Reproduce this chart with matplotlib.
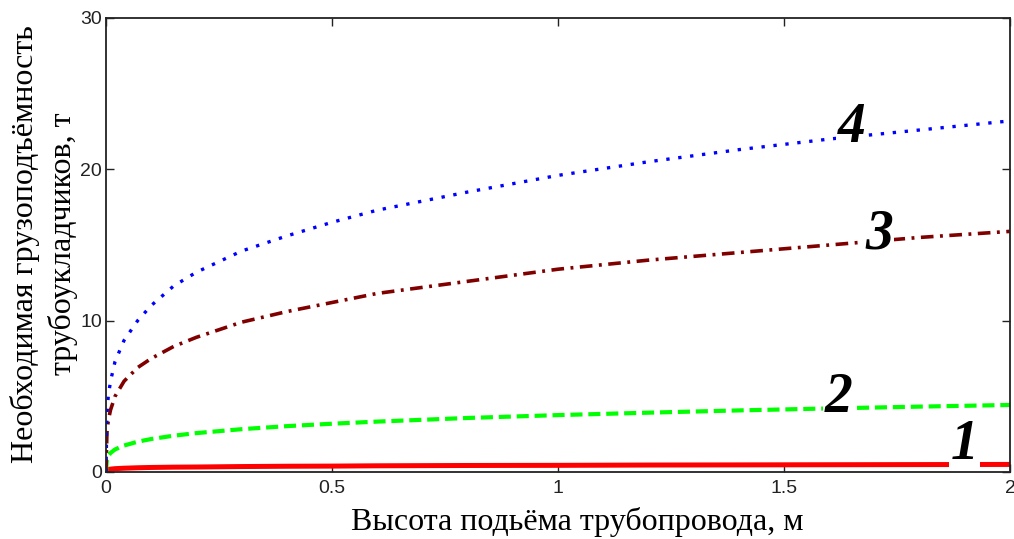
import matplotlib
matplotlib.use("Agg")
import matplotlib.pyplot as plt

# Height of pipeline lift, m
x = [0, 0.002, 0.005, 0.01, 0.02, 0.04, 0.07, 0.1, 0.15, 0.2, 0.3,
     0.4, 0.5, 0.6, 0.8, 1.0, 1.2, 1.4, 1.6, 1.8, 2.0]

# Required lifting capacity of pipelayers, t
y1 = [0, 0.14, 0.17, 0.19, 0.22, 0.25, 0.28, 0.30, 0.32, 0.33, 0.36,
      0.38, 0.39, 0.41, 0.43, 0.44, 0.46, 0.47, 0.48, 0.49, 0.50]
y2 = [0, 0.86, 1.07, 1.26, 1.49, 1.75, 2.00, 2.18, 2.40, 2.57, 2.83,
      3.03, 3.19, 3.33, 3.57, 3.76, 3.92, 4.07, 4.20, 4.32, 4.43]
y3 = [0, 2.6, 3.4, 4.1, 5.0, 6.0, 6.9, 7.5, 8.3, 8.9, 9.9,
      10.6, 11.2, 11.8, 12.6, 13.4, 14.0, 14.5, 15.0, 15.5, 15.9]
y4 = [0, 3.8, 5.0, 6.0, 7.3, 8.7, 10.0, 11.0, 12.3, 13.2, 14.6,
      15.6, 16.5, 17.3, 18.5, 19.6, 20.5, 21.3, 22.0, 22.6, 23.2]

# curve labels: text, x, y
labels = [("1", 1.90, 1.8), ("2", 1.62, 4.9), ("3", 1.71, 15.7), ("4", 1.65, 22.7)]

xticks = [0, 0.5, 1, 1.5, 2]
xticklabels = ["0", "0.5", "1", "1.5", "2"]
yticks = [0, 10, 20, 30]

fig = plt.figure(figsize=(10.14, 5.39), dpi=100)
ax = fig.add_axes([106 / 1014, 1 - 472 / 539, 904 / 1014, 454 / 539])

ax.plot(x, y1, color="#ff0000", lw=3.6, solid_capstyle="butt")
ax.plot(x, y2, color="#00ff00", lw=3.0, linestyle=(0, (2.9, 1.4)))
ax.plot(x, y3, color="#800000", lw=2.6, linestyle=(0, (3.5, 1.8, 0.8, 1.8)))
ax.plot(x, y4, color="#0000ff", lw=2.4, linestyle=(0, (1, 2.6)))

for txt, lx, ly in labels:
    ax.text(lx, ly, txt, fontsize=40, family="Liberation Serif", style="italic",
            weight="bold", ha="center", va="center", zorder=2.2,
            bbox=dict(facecolor="white", edgecolor="none", pad=1))

ax.set_xlim(0, 2)
ax.set_ylim(0, 30)
ax.set_xticks(xticks)
ax.set_xticklabels(xticklabels)
ax.set_yticks(yticks)
ax.tick_params(direction="in", length=6, width=1, top=True, right=True,
               labelsize=14, labelcolor="#222222", colors="#222222")
ax.tick_params(axis="x", pad=6)
ax.tick_params(axis="y", pad=3)
for lab in ax.get_xticklabels() + ax.get_yticklabels():
    lab.set_family("Liberation Sans")
for s in ax.spines.values():
    s.set_linewidth(1.3)
    s.set_color("#222222")

fig.text(577 / 1014, 1 - 522 / 539, "Высота подьёма трубопровода, м",
         family="Liberation Serif", fontsize=23, ha="center", va="center")
fig.text(44 / 1014, 1 - 244 / 539,
         "Необходимая грузоподъёмность\nтрубоукладчиков, т",
         family="Liberation Serif", fontsize=23, ha="center", va="center",
         rotation=90, multialignment="center", linespacing=1.35)

fig.savefig("out.png", dpi=100)
